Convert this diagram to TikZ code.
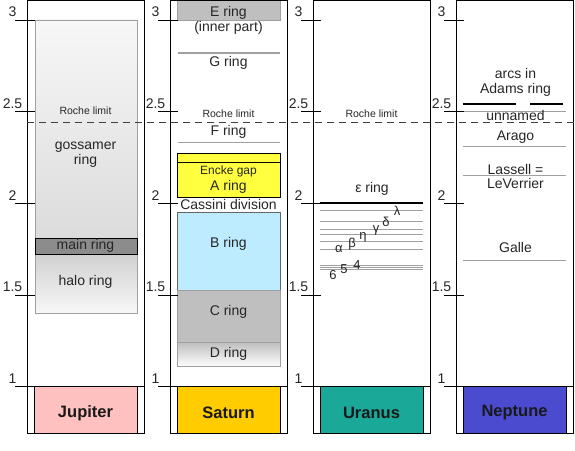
\documentclass[tikz,border=0pt]{standalone}
\usepackage{fontspec}
\setmainfont{Liberation Sans}
\usepackage{tikz}

\definecolor{jupcol}{HTML}{FFC0C0}
\definecolor{satcol}{HTML}{FFCC00}
\definecolor{urancol}{HTML}{1AA898}
\definecolor{nepcol}{HTML}{4B4BCF}
\definecolor{ringgray}{HTML}{A0A0A0}
\definecolor{aringcol}{HTML}{FFFF40}
\definecolor{bringcol}{HTML}{BDEBFF}

\tikzset{
  panel/.style={draw=black,line width=0.8pt},
  ringbox/.style={draw=ringgray,line width=0.8pt},
  thinring/.style={draw=ringgray,line width=1.1pt},
  thickring/.style={draw=black,line width=2pt},
  lbl/.style={font=\fontsize{14}{15}\selectfont,text=black!85,inner sep=0pt,align=center},
  smalllbl/.style={font=\fontsize{10.5}{12}\selectfont,text=black!85,inner sep=0pt},
  greeklbl/.style={font=\fontsize{13}{14}\selectfont,text=black!85,inner sep=0pt},
  planetlbl/.style={font=\fontsize{16.5}{18}\selectfont\bfseries,text=black!90,inner sep=0pt},
  roche/.style={draw=black!75,line width=0.9pt,dash pattern=on 7pt off 5pt}
}

\begin{document}
\begin{tikzpicture}[x=1pt,y=183.3pt]
        \useasboundingbox (0,0.6541) rectangle (575,3.1091);

        \shadedraw[ringbox,top color=black!3,bottom color=black!14] (35,1.81) rectangle (137,3);
        \shadedraw[ringbox,top color=black!18,bottom color=black!3] (35,1.40) rectangle (137,1.72);
        \draw[draw=black,fill=black!45,line width=0.8pt] (35,1.72) rectangle (137,1.81);
        \node[smalllbl] (jroche) at (85.5,2.503) {Roche limit};
        \node[lbl] (jgoss) at (85.5,2.264) {gossamer\\ring};
        \node[lbl] (jmain) at (85.5,1.765) {main ring};
        \node[lbl] (jhalo) at (85.5,1.57) {halo ring};

        \filldraw[ringbox,fill=black!25] (177.5,3) rectangle (280,3.106);
        \draw[thinring] (177.5,2.82) -- (280,2.82);
        \draw[thinring] (177.5,2.33) -- (280,2.33);
        \filldraw[draw=black,line width=0.8pt,fill=aringcol] (177.5,2.03) rectangle (280,2.27);
        \draw[black,line width=1pt] (177.5,2.22) -- (280,2.22);
        \filldraw[draw=black!60,line width=0.8pt,fill=bringcol] (177.5,1.525) rectangle (280,1.95);
        \filldraw[ringbox,fill=black!25] (177.5,1.24) rectangle (280,1.525);
        \shadedraw[ringbox,top color=black!25,bottom color=white] (177.5,1.11) rectangle (280,1.24);
        \node[lbl] (ering) at (228.5,3.0) {E ring\\(inner part)};
        \node[lbl] (gring) at (228.5,2.765) {G ring};
        \node[smalllbl] (sroche) at (228.5,2.49) {Roche limit};
        \node[lbl] (fring) at (228.5,2.39) {F ring};
        \node[lbl,font=\fontsize{12}{13}\selectfont] (encke) at (228.5,2.176) {Encke gap};
        \node[lbl] (aring) at (228.5,2.09) {A ring};
        \node[lbl] (cassini) at (228.5,1.996) {Cassini division};
        \node[lbl] (bring) at (228.5,1.78) {B ring};
        \node[lbl] (cring) at (228.5,1.41) {C ring};
        \node[lbl] (dring) at (228.5,1.18) {D ring};

        \foreach \r in {1.96,1.90,1.86,1.83,1.79,1.75}
          \draw[thinring,line width=0.8pt] (320,\r) -- (423,\r);
        \foreach \r in {1.66,1.65,1.64}
          \draw[thinring,line width=1.2pt] (320,\r) -- (423,\r);
        \draw[thickring] (320,2.0) -- (423,2.0);
        \node[smalllbl] (uroche) at (371.5,2.49) {Roche limit};
        \node[lbl] (epsring) at (372,2.08) {ε ring};
        \node[greeklbl] (lam) at (397,1.958) {λ};
        \node[greeklbl] (del) at (386,1.898) {δ};
        \node[greeklbl] (gam) at (376,1.854) {γ};
        \node[greeklbl] (eta) at (363,1.816) {η};
        \node[greeklbl] (bet) at (352,1.778) {β};
        \node[greeklbl] (alp) at (339,1.751) {α};
        \node[greeklbl] (four) at (357,1.663) {4};
        \node[greeklbl] (five) at (344,1.641) {5};
        \node[greeklbl] (six) at (333,1.609) {6};

        \draw[thickring] (463,2.54) -- (516,2.54);
        \draw[thickring] (530,2.54) -- (563,2.54);
        \foreach \r in {2.50,2.31,2.15,1.69}
          \draw[thinring,line width=0.8pt] (463,\r) -- (566,\r);
        \node[lbl] (adams) at (515.5,2.66) {arcs in\\Adams ring};
        \node[lbl] (unnamed) at (515.5,2.48) {unnamed};
        \node[lbl] (arago) at (515.5,2.36) {Arago};
        \node[lbl] (lassell) at (515.5,2.187) {Lassell =};
        \node[lbl] (leverrier) at (515.5,2.11) {LeVerrier};
        \node[lbl] (galle) at (515.5,1.76) {Galle};

        \foreach \xl/\name/\col/\lab in {27/jup/jupcol/Jupiter,170/sat/satcol/Saturn,313/ura/urancol/Uranus,456/nep/nepcol/Neptune}{
          \draw[panel] (\xl,0.745) rectangle (\xl+117,3.106);
          \filldraw[panel,fill=\col] (\xl+7.5,0.745) rectangle (\xl+110,1);
          \draw[panel] (\xl-12,1) -- (\xl+117,1);
          \node[planetlbl] (\name) at (\xl+58.5,0.856) {\lab};
          \foreach \r [count=\k] in {1,1.5,2,2.5,3}{
            \draw[panel] (\xl-12,\r) -- (\xl+8,\r);
            \node[lbl,anchor=base,yshift=3pt] (\name-t\k) at (\xl-14.5,\r) {\r};
          }
        }

        \draw[roche] (27,2.44) -- (575,2.44);
\end{tikzpicture}
\end{document}
